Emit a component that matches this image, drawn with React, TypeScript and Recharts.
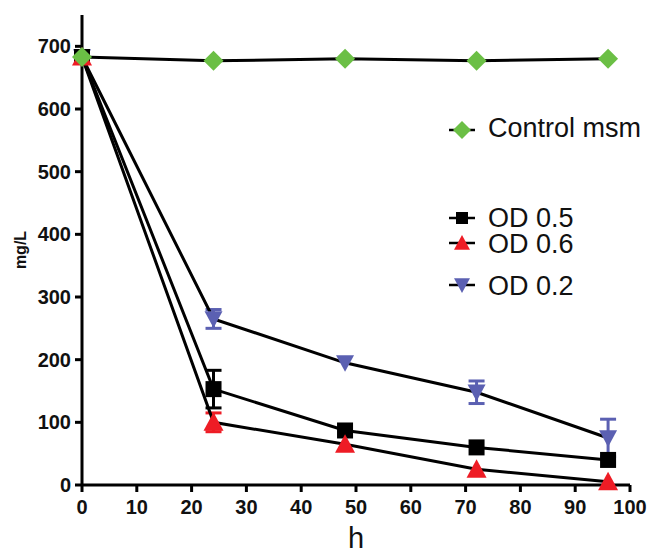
import React from 'react';
import { LineChart, Line, XAxis, YAxis, ErrorBar, Legend } from 'recharts';

const hours = [0, 24, 48, 72, 96];
const controlMsm = [683, 677, 680, 677, 680];
const od05 = [683, 153, 87, 60, 40];
const od06 = [683, 100, 65, 25, 5];
const od02 = [683, 265, 195, 148, 75];
const od05Err = [null, 30, null, null, null];
const od06Err = [null, 15, null, null, null];
const od02Err = [null, 15, null, 18, 30];
const xTicks = [0, 10, 20, 30, 40, 50, 60, 70, 80, 90, 100];
const yTicks = [0, 100, 200, 300, 400, 500, 600, 700];

const GREEN = '#6bbf45';
const RED = '#ee1c25';
const BLUE = '#5b60b2';

const data = hours.map((h, i) => ({
  h,
  control: controlMsm[i],
  od05: od05[i],
  od06: od06[i],
  od02: od02[i],
  od05Err: od05Err[i],
  od06Err: od06Err[i],
  od02Err: od02Err[i],
}));

const FONT = '"Liberation Sans", Arial, sans-serif';

const Diamond = ({ cx, cy, r = 10 }: any) =>
  cx == null ? null : (
    <polygon points={`${cx},${cy - r} ${cx + r},${cy} ${cx},${cy + r} ${cx - r},${cy}`} fill={GREEN} />
  );
const Square = ({ cx, cy, s = 8 }: any) =>
  cx == null ? null : <rect x={cx - s} y={cy - s} width={2 * s} height={2 * s} fill="#000" />;
const TriUp = ({ cx, cy, s = 9 }: any) =>
  cx == null ? null : (
    <polygon points={`${cx},${cy - s} ${cx + s},${cy + s * 0.85} ${cx - s},${cy + s * 0.85}`} fill={RED} />
  );
const TriDown = ({ cx, cy, s = 9 }: any) =>
  cx == null ? null : (
    <polygon points={`${cx},${cy + s} ${cx + s},${cy - s * 0.85} ${cx - s},${cy - s * 0.85}`} fill={BLUE} />
  );

const YTick = ({ x, y, payload }: any) => (
  <text x={x - 2} y={y} dy={7} textAnchor="end" fontFamily={FONT} fontWeight="bold" fontSize={20} fill="#111">
    {payload.value}
  </text>
);
const XTick = ({ x, y, payload }: any) => (
  <text x={x} y={y} dy={20} textAnchor="middle" fontFamily={FONT} fontWeight="bold" fontSize={20} fill="#111">
    {payload.value}
  </text>
);

const XLabel = ({ viewBox }: any) => (
  <text x={viewBox.x + viewBox.width / 2} y={548} textAnchor="middle" fontFamily={FONT} fontSize={29} fill="#111">
    h
  </text>
);
const YLabel = () => (
  <text x={0} y={0} transform="translate(26,250) rotate(-90)" textAnchor="middle" fontFamily={FONT} fontWeight="bold" fontSize={16} fill="#111">
    mg/L
  </text>
);

const legendItems = [
  { label: 'Control msm', y: 130, base: 137, mark: 'diamond' },
  { label: 'OD 0.5', y: 218, base: 227, mark: 'square' },
  { label: 'OD 0.6', y: 243, base: 253, mark: 'up' },
  { label: 'OD 0.2', y: 285, base: 295, mark: 'down' },
];

const LegendContent = () => (
  <svg width={653} height={548} style={{ position: 'absolute', left: 0, top: 0, pointerEvents: 'none' }}>
    {legendItems.map((it) => (
      <g key={it.label}>
        <line x1={449} x2={475} y1={it.y} y2={it.y} stroke="#000" strokeWidth={2.5} />
        {it.mark === 'diamond' && <Diamond cx={462} cy={it.y} r={9} />}
        {it.mark === 'square' && <Square cx={462} cy={it.y} s={6} />}
        {it.mark === 'up' && <TriUp cx={462} cy={it.y} s={8} />}
        {it.mark === 'down' && <TriDown cx={462} cy={it.y} s={8} />}
        <text x={488} y={it.base} fontFamily={FONT} fontSize={27} fill="#111">
          {it.label}
        </text>
      </g>
    ))}
  </svg>
);

export default function App() {
  return (
    <div style={{ position: 'absolute', left: 0, top: 0, width: 653, height: 548, background: '#fff' }}>
      <LineChart width={653} height={548} data={data} margin={{ top: 15, right: 23, bottom: 0, left: 2 }}>
        <XAxis
          dataKey="h"
          type="number"
          domain={[0, 100]}
          ticks={xTicks}
          interval={0}
          axisLine={{ stroke: '#000', strokeWidth: 3 }}
          tickLine={{ stroke: '#000', strokeWidth: 3 }}
          tickSize={7}
          tick={<XTick />}
          height={63}
          label={<XLabel />}
        />
        <YAxis
          type="number"
          domain={[0, 750]}
          ticks={yTicks}
          interval={0}
          axisLine={{ stroke: '#000', strokeWidth: 3 }}
          tickLine={{ stroke: '#000', strokeWidth: 3 }}
          tickSize={7}
          tick={<YTick />}
          width={80}
          label={<YLabel />}
        />
        <Legend
          layout="vertical"
          align="center"
          verticalAlign="middle"
          content={<LegendContent />}
          wrapperStyle={{ position: 'absolute', left: 0, top: 0, width: 0, height: 0, overflow: 'visible' }}
        />
        <Line dataKey="od02" stroke="#000" strokeWidth={3} isAnimationActive={false} dot={<TriDown s={9} />} activeDot={false}>
          <ErrorBar dataKey="od02Err" stroke={BLUE} strokeWidth={3} width={8} direction="y" />
        </Line>
        <Line dataKey="od05" stroke="#000" strokeWidth={3} isAnimationActive={false} dot={<Square s={8} />} activeDot={false}>
          <ErrorBar dataKey="od05Err" stroke="#000" strokeWidth={3} width={8} direction="y" />
        </Line>
        <Line dataKey="od06" stroke="#000" strokeWidth={3} isAnimationActive={false} dot={<TriUp s={10} />} activeDot={false}>
          <ErrorBar dataKey="od06Err" stroke={RED} strokeWidth={3} width={8} direction="y" />
        </Line>
        <Line dataKey="control" stroke="#000" strokeWidth={3} isAnimationActive={false} dot={<Diamond r={10} />} activeDot={false} />
      </LineChart>
    </div>
  );
}
